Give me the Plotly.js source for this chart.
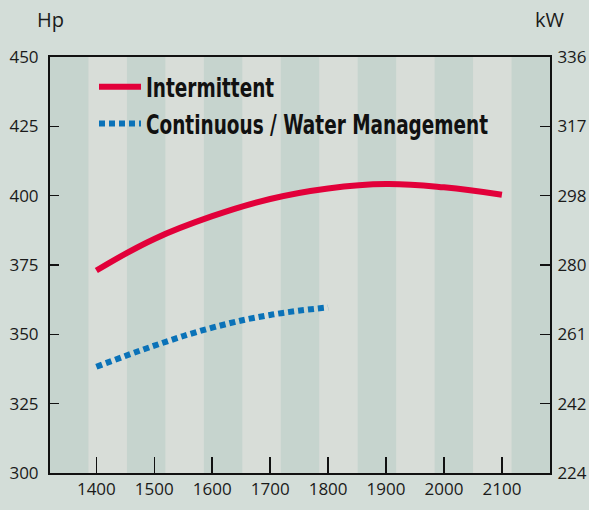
<!DOCTYPE html>
<html>
<head>
<meta charset="utf-8">
<script src="https://cdn.plot.ly/plotly-3.0.1.min.js"></script>
<style>html,body{margin:0;padding:0;background:#d3ddd8;}#chart{width:589px;height:510px;}</style>
</head>
<body>
<div id="chart"></div>
<script>
// Data
const rpm = [1400, 1500, 1600, 1700, 1800, 1900, 2000, 2100];
const intermittentHp = [373.0, 384.4, 392.6, 398.8, 402.6, 404.2, 403.0, 400.3];
const rpmContinuous = [1400, 1500, 1600, 1700, 1800];
const continuousHp = [338.3, 345.9, 352.4, 357.0, 359.7];
const seriesNames = ["Intermittent", "Continuous / Water Management"];
const hpTicks = [300, 325, 350, 375, 400, 425, 450];
const kwTickLabels = ["224", "242", "261", "280", "298", "317", "336"];
const rpmTicks = [1400, 1500, 1600, 1700, 1800, 1900, 2000, 2100];

const xRange = [1320, 2183];
const yRange = [300, 450];
const nBands = 13;

const bandW = (xRange[1] - xRange[0]) / nBands;
const shapes = [];
for (let i = 0; i < nBands; i += 2) {
  shapes.push({type: 'rect', xref: 'x', yref: 'paper', x0: xRange[0] + i * bandW, x1: xRange[0] + (i + 1) * bandW,
    y0: 0, y1: 1, fillcolor: '#c6d4ce', line: {width: 0}, layer: 'below'});
}

const tickFont = {family: 'Open Sans, Noto Sans, sans-serif', size: 17, color: '#1a1a1a'};

const traces = [
  {x: rpm, y: intermittentHp, name: seriesNames[0], mode: 'lines', type: 'scatter',
   line: {color: '#e2003a', width: 6, shape: 'spline', smoothing: 1.2}, hoverinfo: 'skip'},
  {x: rpmContinuous, y: continuousHp, name: seriesNames[1], mode: 'lines', type: 'scatter',
   line: {color: '#0a72b8', width: 6, dash: '6px,4px', shape: 'spline', smoothing: 1.2}, hoverinfo: 'skip'},
  {x: [], y: [], yaxis: 'y2', showlegend: false, hoverinfo: 'skip', mode: 'lines'}
];

const layout = {
  width: 589, height: 510,
  margin: {l: 50, r: 39, t: 57, b: 37, autoexpand: false},
  paper_bgcolor: '#d3ddd8',
  plot_bgcolor: '#d8ddd8',
  showlegend: true,
  legend: {x: 0.088, y: 0.985, xanchor: 'left', yanchor: 'top', bgcolor: 'rgba(0,0,0,0)',
    font: {family: 'DejaVu Sans Condensed, DejaVu Sans, sans-serif', size: 26, color: '#111', weight: 'bold'},
    itemwidth: 42},
  xaxis: {range: xRange, tickvals: rpmTicks, ticks: 'inside', ticklen: 16, tickwidth: 1.5, tickcolor: '#111',
    showline: true, linecolor: '#111', linewidth: 2, mirror: true, showgrid: false, zeroline: false,
    tickfont: tickFont, fixedrange: true, automargin: false},
  yaxis: {range: yRange, tickvals: hpTicks, ticks: 'inside', ticklen: 9, tickwidth: 1.5, tickcolor: '#111',
    showline: true, linecolor: '#111', linewidth: 2, showgrid: false, zeroline: false,
    tickfont: tickFont, ticklabelstandoff: 6, fixedrange: true, automargin: false},
  yaxis2: {range: yRange, overlaying: 'y', side: 'right', anchor: 'x', tickvals: hpTicks, ticktext: kwTickLabels,
    ticks: 'inside', ticklen: 10, tickwidth: 1.5, tickcolor: '#111',
    showline: true, linecolor: '#111', linewidth: 2, showgrid: false, zeroline: false,
    tickfont: tickFont, ticklabelstandoff: 2, fixedrange: true, automargin: false},
  shapes: shapes,
  annotations: [
    {text: 'Hp', xref: 'paper', yref: 'paper', x: 0.0, y: 1.089, xanchor: 'center', yanchor: 'middle', showarrow: false,
     font: {family: 'Open Sans, Noto Sans, sans-serif', size: 20, color: '#1a1a1a'}},
    {text: 'kW', xref: 'paper', yref: 'paper', x: 1.0, y: 1.091, xanchor: 'center', yanchor: 'middle', showarrow: false,
     font: {family: 'Open Sans, Noto Sans, sans-serif', size: 20, color: '#1a1a1a'}}
  ]
};

Plotly.newPlot('chart', traces, layout, {staticPlot: true}).then(function (gd) {
  // Condense the legend lettering horizontally (reference uses a condensed heavy face)
  const squeeze = 0.79;
  let saved = 0;
  gd.querySelectorAll('.legend .legendtext').forEach(function (t) {
    const w = t.getComputedTextLength();
    const x0 = parseFloat(t.getAttribute('x')) || 0;
    t.setAttribute('transform', 'translate(' + x0 + ',0) scale(' + squeeze + ',1) translate(' + (-x0) + ',0)');
    saved = Math.max(saved, w * (1 - squeeze));
  });
  gd.querySelectorAll('.legend rect.bg, .legend .scrollbox rect, .legend .legendtoggle').forEach(function (r) {
    const w = parseFloat(r.getAttribute('width'));
    if (isFinite(w)) r.setAttribute('width', Math.max(0, w - saved).toFixed(1));
  });
});
</script>
</body>
</html>
